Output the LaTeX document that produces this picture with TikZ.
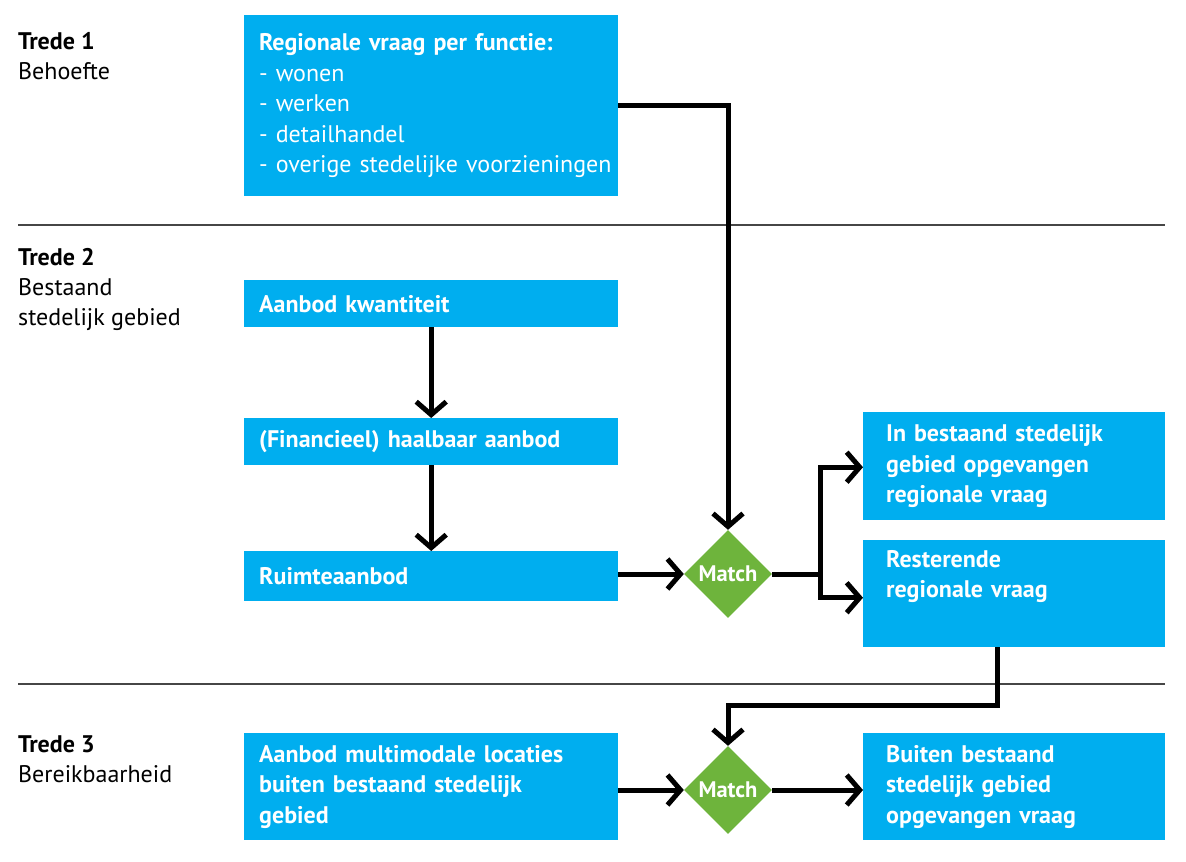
\documentclass[tikz,border=0pt]{standalone}
\usepackage{fontspec}
\setmainfont{PT Sans}
\usetikzlibrary{arrows.meta,shapes.geometric}
\definecolor{rblue}{RGB}{0,174,239}
\definecolor{rgreen}{RGB}{110,180,60}
\definecolor{rulegray}{RGB}{70,70,70}
\newcommand{\padl}{\hspace*{15pt}}
\newcommand{\padr}{\hspace*{23pt}}
\begin{document}
\begin{tikzpicture}[x=1pt,y=-1pt,
  txt/.style={font=\fontsize{24}{30.5}\selectfont},
  btxt/.style={font=\fontsize{24}{30.5}\selectfont\bfseries},
  box/.style={txt, fill=rblue, text=white, anchor=north west, inner ysep=0pt, inner xsep=0pt, align=left},
  wbox/.style={box, text width=374pt},
  nbox/.style={box, text width=302pt},
  matchnode/.style={diamond, fill=rgreen, text=white, inner sep=0pt, minimum width=88pt, minimum height=88pt, aspect=1, font=\fontsize{22.5}{24}\selectfont\bfseries},
  lbl/.style={txt, anchor=base west, inner sep=0pt},
  flow/.style={line width=5pt, -{Straight Barb[length=13pt,width=30pt]}},
  sep/.style={rulegray, line width=1.3pt}
]
\useasboundingbox (0,0) rectangle (1186,862);
% separators
\coordinate (r1a) at (18,225); \coordinate (r1b) at (1165,225);
\coordinate (r2a) at (18,684); \coordinate (r2b) at (1165,684);
\draw[sep] (r1a) -- (r1b);
\draw[sep] (r2a) -- (r2b);
% left labels
\node[lbl, btxt] (t1) at (18,49) {Trede 1};
\node[lbl] (t1b) at (18,79) {Behoefte};
\node[lbl, btxt] (t2) at (18,265) {Trede 2};
\node[lbl] (t2b) at (18,295) {Bestaand};
\node[lbl] (t2c) at (18,325) {stedelijk gebied};
\node[lbl, btxt] (t3) at (18,752) {Trede 3};
\node[lbl] (t3b) at (18,782) {Bereikbaarheid};
% boxes
\node[wbox, minimum height=181pt] (b1) at (244,15) {\padl\textbf{Regionale vraag per functie:}\\\padl- wonen\\\padl- werken\\\padl- detailhandel\\\padl- overige stedelijke voorzieningen};
\node[wbox, btxt, minimum height=47pt] (b2) at (244,280) {\padl Aanbod kwantiteit};
\node[wbox, btxt, minimum height=47pt] (b3) at (244,418) {\padl(Financieel) haalbaar aanbod};
\node[wbox, btxt, minimum height=50pt] (b4) at (244,551) {\padl Ruimteaanbod};
\node[nbox, btxt, minimum height=108pt] (b5) at (863,412) {\padr In bestaand stedelijk\\\padr gebied opgevangen\\\padr regionale vraag};
\node[nbox, btxt, minimum height=107pt] (b6) at (863,540) {\padr Resterende\\\padr regionale vraag\\\strut};
\node[wbox, btxt, minimum height=107pt] (b7) at (244,733) {\padl Aanbod multimodale locaties\\\padl buiten bestaand stedelijk\\\padl gebied};
\node[nbox, btxt, minimum height=107pt] (b8) at (863,733) {\padr Buiten bestaand\\\padr stedelijk gebied\\\padr opgevangen vraag};
% match diamonds
\node[matchnode] (m1) at (728,574) {Match};
\node[matchnode] (m2) at (728,790) {Match};
% connectors
\draw[flow] (b1.east) -| (m1.north);
\draw[flow] (b2.south) -- (b3.north);
\draw[flow] (b3.south) -- (b4.north);
\draw[flow] (b4.east |- m1.west) -- (m1.west);
\coordinate (split) at (820,574);
\draw[flow] (m1.east) -- (split) |- ([yshift=-1pt]b5.west);
\draw[flow] (split) |- ([yshift=-4pt]b6.west);
\draw[flow] ([xshift=-17pt]b6.south) -- ++(0,58) -| (m2.north);
\draw[flow] (b7.east |- m2.west) -- (m2.west);
\draw[flow] (m2.east) -- (m2.east -| b8.west);
\end{tikzpicture}
\end{document}
